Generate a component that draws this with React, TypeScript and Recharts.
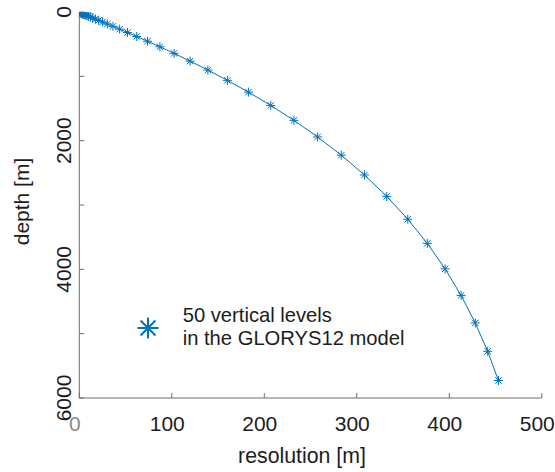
import React from "react";
import { LineChart, Line, XAxis, YAxis } from "recharts";

const depths = [
  0.494, 1.541, 2.646, 3.819, 5.078, 6.441, 7.93, 9.573, 11.405, 13.467,
  15.81, 18.496, 21.599, 25.211, 29.445, 34.434, 40.344, 47.374, 55.764, 65.807,
  77.854, 92.326, 109.729, 130.666, 155.851, 186.126, 222.475, 266.04, 318.127, 380.213,
  453.938, 541.089, 643.567, 763.333, 902.339, 1062.44, 1245.291, 1452.251, 1684.284, 1941.893,
  2225.078, 2533.336, 2865.703, 3220.82, 3597.032, 3992.484, 4405.224, 4833.291, 5274.784, 5727.917,
];

const resolutions = [
  1.0, 1.047, 1.105, 1.173, 1.259, 1.363, 1.489, 1.643, 1.832, 2.062,
  2.343, 2.686, 3.103, 3.612, 4.234, 4.989, 5.91, 7.03, 8.39, 10.043,
  12.047, 14.472, 17.403, 20.937, 25.185, 30.275, 36.349, 43.565, 52.087, 62.086,
  73.725, 87.151, 102.478, 119.766, 139.006, 160.101, 182.851, 206.96, 232.033, 257.609,
  283.185, 308.258, 332.367, 355.117, 376.212, 395.452, 412.74, 428.067, 441.493, 453.133,
];

const xTicks = [0, 100, 200, 300, 400, 500];
const yTicks = [0, 1000, 2000, 3000, 4000, 5000, 6000];
const yLabelTicks = [0, 2000, 4000, 6000];

const legendLines = ["50 vertical levels", "in the GLORYS12 model"];
const xLabel = "resolution [m]";
const yLabel = "depth [m]";

const data = depths.map((d, i) => ({ depth: d, resolution: resolutions[i] }));

const BLUE = "#0072BD";
const AXIS = "#6e6e6e";
const TEXT = "#1c1c1c";
const FONT = "'Liberation Sans', Arial, Helvetica, sans-serif";
const TICK_LEN = 5;

const Asterisk = ({ cx, cy, r, sw }: { cx: number; cy: number; r: number; sw: number }) => {
  const d = r * 0.7071;
  return (
    <g stroke={BLUE} strokeWidth={sw} fill="none">
      <line x1={cx - r} y1={cy} x2={cx + r} y2={cy} />
      <line x1={cx} y1={cy - r} x2={cx} y2={cy + r} />
      <line x1={cx - d} y1={cy - d} x2={cx + d} y2={cy + d} />
      <line x1={cx - d} y1={cy + d} x2={cx + d} y2={cy - d} />
    </g>
  );
};

const Dot = (props: any) => {
  const { cx, cy, index } = props;
  if (cx == null || cy == null) return null;
  return <Asterisk key={`d${index}`} cx={cx} cy={cy} r={4.5} sw={1} />;
};

const BottomTick = (props: any) => {
  const { x, y, payload } = props;
  const v = payload.value;
  return (
    <g>
      <line x1={x} x2={x} y1={y} y2={y - TICK_LEN} stroke={AXIS} strokeWidth={1} />
      <text
        x={x - 4.5}
        y={y + 33}
        textAnchor="middle"
        fontFamily={FONT}
        fontSize={21}
        fill={v === 0 ? "#8a8a8a" : TEXT}
      >
        {v}
      </text>
    </g>
  );
};

const TopTick = (props: any) => {
  const { x, y } = props;
  return <line x1={x} x2={x} y1={y} y2={y + TICK_LEN} stroke={AXIS} strokeWidth={1} />;
};

const LeftTick = (props: any) => {
  const { x, y, payload } = props;
  const v = payload.value;
  const tx = x - 8;
  return (
    <g>
      <line x1={x} x2={x + TICK_LEN} y1={y} y2={y} stroke={AXIS} strokeWidth={1} />
      {yLabelTicks.includes(v) && (
        <text
          x={tx}
          y={y}
          transform={`rotate(-90, ${tx}, ${y})`}
          textAnchor="middle"
          fontFamily={FONT}
          fontSize={21}
          fill={TEXT}
        >
          {v}
        </text>
      )}
    </g>
  );
};

const RightTick = (props: any) => {
  const { x, y } = props;
  return <line x1={x} x2={x - TICK_LEN} y1={y} y2={y} stroke={AXIS} strokeWidth={1} />;
};

export default function App() {
  const W = 555;
  const H = 472;
  return (
    <div style={{ position: "relative", width: W, height: H }}>
      <style>{`body{margin:0} svg{overflow:visible}`}</style>
      <LineChart
        width={W}
        height={H}
        data={data}
        margin={{ top: 12, right: 13.2, bottom: 0, left: 0 }}
      >
        <XAxis
          xAxisId="b"
          type="number"
          dataKey="resolution"
          domain={[0, 500]}
          ticks={xTicks}
          interval={0}
          orientation="bottom"
          height={74}
          tickSize={0}
          tickMargin={0}
          tickLine={false}
          axisLine={{ stroke: AXIS, strokeWidth: 1 }}
          tick={<BottomTick />}
          allowDataOverflow
        />
        <XAxis
          xAxisId="t"
          type="number"
          dataKey="resolution"
          domain={[0, 500]}
          ticks={xTicks}
          interval={0}
          orientation="top"
          height={0}
          tickSize={0}
          tickMargin={0}
          tickLine={false}
          axisLine={{ stroke: AXIS, strokeWidth: 1 }}
          tick={<TopTick />}
          allowDataOverflow
        />
        <YAxis
          yAxisId="l"
          type="number"
          dataKey="depth"
          domain={[0, 6000]}
          ticks={yTicks}
          interval={0}
          reversed
          orientation="left"
          width={79.3}
          tickSize={0}
          tickMargin={0}
          tickLine={false}
          axisLine={{ stroke: AXIS, strokeWidth: 1 }}
          tick={<LeftTick />}
          allowDataOverflow
        />
        <YAxis
          yAxisId="r"
          type="number"
          dataKey="depth"
          domain={[0, 6000]}
          ticks={yTicks}
          interval={0}
          reversed
          orientation="right"
          width={0}
          tickSize={0}
          tickMargin={0}
          tickLine={false}
          axisLine={{ stroke: AXIS, strokeWidth: 1 }}
          tick={<RightTick />}
          allowDataOverflow
        />
        <Line
          xAxisId="b"
          yAxisId="l"
          type="linear"
          dataKey="depth"
          stroke={BLUE}
          strokeWidth={1}
          dot={<Dot />}
          activeDot={false}
          isAnimationActive={false}
        />
      </LineChart>
      <svg
        width={W}
        height={H}
        style={{ position: "absolute", left: 0, top: 0, pointerEvents: "none" }}
      >
        <text
          x={302}
          y={463}
          textAnchor="middle"
          fontFamily={FONT}
          fontSize={21.3}
          fill={TEXT}
        >
          {xLabel}
        </text>
        <text
          x={28.5}
          y={201.5}
          transform="rotate(-90, 28.5, 201.5)"
          textAnchor="middle"
          fontFamily={FONT}
          fontSize={21}
          fill={TEXT}
        >
          {yLabel}
        </text>
        <Asterisk cx={148} cy={328} r={10.5} sw={2} />
        {legendLines.map((t, i) => (
          <text
            key={t}
            x={182.7}
            y={321.7 + i * 23.5}
            fontFamily={FONT}
            fontSize={20.2}
            fill={TEXT}
          >
            {t}
          </text>
        ))}
      </svg>
    </div>
  );
}
